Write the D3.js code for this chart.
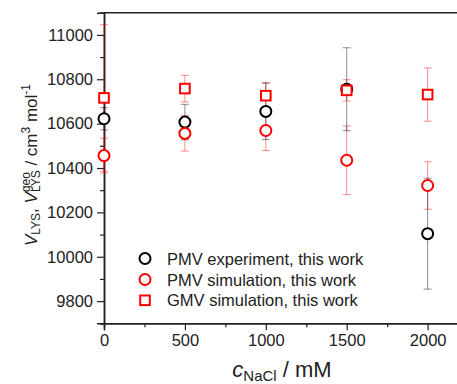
<!DOCTYPE html>
<html><head><meta charset="utf-8">
<script src="https://cdn.jsdelivr.net/npm/d3@7"></script>
<style>body{margin:0;background:#fff}svg{display:block}text{font-family:"Liberation Sans",Arial,sans-serif;fill:#222}</style>
</head><body>
<svg id="c" width="457" height="384"></svg>
<script>
const conc = [0, 500, 1000, 1500, 2000];
const pmvExp = [10622, 10607, 10655, 10755, 10104];
const pmvExpErr = [50, 80, 127, 187, 250];
const pmvSim = [10456, 10556, 10569, 10435, 10321];
const pmvSimErr = [78, 80, 90, 155, 107];
const gmvSim = [10716, 10758, 10726, 10750, 10731];
const gmvSimErr = [330, 60, 60, 48, 120];
const yTicks = [9800, 10000, 10200, 10400, 10600, 10800, 11000];
const yMinor = [9700, 9900, 10100, 10300, 10500, 10700, 10900, 11100];
const xTicks = [0, 500, 1000, 1500, 2000];
const xMinor = [250, 750, 1250, 1750];
const legendLabels = ["PMV experiment, this work", "PMV simulation, this work", "GMV simulation, this work"];

const svg = d3.select("#c");
const x = d3.scaleLinear().domain([0, 2200]).range([104, 460]);
const y = d3.scaleLinear().domain([9700, 11100]).range([323.3, 12.7]);
const FS = 16.5;

// frame top line
svg.append("line").attr("x1", 104).attr("x2", 457).attr("y1", y(11100)).attr("y2", y(11100)).attr("stroke", "#222").attr("stroke-width", 1.5);

// axes
svg.append("g").attr("transform", "translate(104,0)")
  .call(d3.axisLeft(y).tickValues(yTicks).tickSize(7).tickPadding(4).tickFormat(d3.format("d")));
svg.append("g").attr("transform", "translate(104,0)")
  .call(d3.axisLeft(y).tickValues(yMinor).tickSize(4).tickFormat(""));
svg.append("g").attr("transform", "translate(0," + y(9700) + ")")
  .call(d3.axisBottom(x).tickValues(xTicks).tickSize(7).tickPadding(4).tickFormat(d3.format("d")));
svg.append("g").attr("transform", "translate(0," + y(9700) + ")")
  .call(d3.axisBottom(x).tickValues(xMinor).tickSize(4).tickFormat(""));
svg.selectAll(".domain").attr("stroke", "#222").attr("stroke-width", 1.5);
svg.selectAll(".tick line").attr("stroke", "#222").attr("stroke-width", 1.2);
svg.selectAll(".tick text").attr("font-size", FS).attr("fill", "#222").attr("font-family", "Liberation Sans, Arial, sans-serif");

// error bars
function errBars(vals, errs, color) {
  const g = svg.append("g").attr("stroke", color).attr("stroke-width", 1).attr("fill", "none");
  conc.forEach((c, i) => {
    const cx = x(c), y1 = y(vals[i] + errs[i]), y2 = y(vals[i] - errs[i]);
    g.append("line").attr("x1", cx).attr("x2", cx).attr("y1", y1).attr("y2", y2);
    g.append("line").attr("x1", cx - 4).attr("x2", cx + 4).attr("y1", y1).attr("y2", y1);
    g.append("line").attr("x1", cx - 4).attr("x2", cx + 4).attr("y1", y2).attr("y2", y2);
  });
}
errBars(gmvSim, gmvSimErr, "rgba(255,0,0,0.45)");
errBars(pmvSim, pmvSimErr, "rgba(255,0,0,0.45)");
errBars(pmvExp, pmvExpErr, "rgba(0,0,0,0.45)");

// markers
svg.append("g").selectAll("circle").data(pmvExp).join("circle")
  .attr("cx", (d, i) => x(conc[i])).attr("cy", d => y(d)).attr("r", 5.5)
  .attr("fill", "#fff").attr("stroke", "#000").attr("stroke-width", 2);
svg.append("g").selectAll("circle").data(pmvSim).join("circle")
  .attr("cx", (d, i) => x(conc[i])).attr("cy", d => y(d)).attr("r", 5.5)
  .attr("fill", "#fff").attr("stroke", "#f00").attr("stroke-width", 2);
svg.append("g").selectAll("rect").data(gmvSim).join("rect")
  .attr("x", (d, i) => x(conc[i]) - 4.8).attr("y", d => y(d) - 4.8).attr("width", 9.6).attr("height", 9.6)
  .attr("fill", "#fff").attr("stroke", "#f00").attr("stroke-width", 2);

// legend
const lg = svg.append("g");
const ly = [258.5, 279.5, 300.3];
lg.append("circle").attr("cx", 145).attr("cy", ly[0]).attr("r", 5.5).attr("fill", "#fff").attr("stroke", "#000").attr("stroke-width", 2);
lg.append("circle").attr("cx", 145).attr("cy", ly[1]).attr("r", 5.5).attr("fill", "#fff").attr("stroke", "#f00").attr("stroke-width", 2);
lg.append("rect").attr("x", 145 - 4.8).attr("y", ly[2] - 4.8).attr("width", 9.6).attr("height", 9.6).attr("fill", "#fff").attr("stroke", "#f00").attr("stroke-width", 2);
legendLabels.forEach((t, i) => {
  lg.append("text").attr("x", 167).attr("y", ly[i] + 6).attr("font-size", FS).text(t);
});

// x label
const xl = svg.append("text").attr("x", 282).attr("y", 377).attr("text-anchor", "middle").attr("font-size", 22);
xl.append("tspan").attr("font-style", "italic").text("c");
xl.append("tspan").attr("font-size", 15).attr("dy", 3.5).text("NaCl");
xl.append("tspan").attr("dy", -3.5).text(" / mM");

// y label
const yg = svg.append("g").attr("transform", "translate(37,165) rotate(-90)");
const yl = yg.append("text").attr("x", 0).attr("y", 0).attr("text-anchor", "middle").attr("font-size", 17);
yl.append("tspan").attr("font-style", "italic").text("V");
yl.append("tspan").attr("font-size", 12).attr("dy", 3).text("LYS");
yl.append("tspan").attr("dy", -3).text(", ");
yl.append("tspan").attr("font-style", "italic").text("V");
const lys2 = yl.append("tspan").attr("font-size", 12).attr("dy", 3).text("LYS");
const w = lys2.node().getComputedTextLength();
const geo = yl.append("tspan").attr("font-size", 12).attr("dy", -10).attr("dx", -w).text("geo");
const wg = geo.node().getComputedTextLength();
yl.append("tspan").attr("dy", 7).attr("dx", Math.max(0, w - wg)).text(" / cm");
yl.append("tspan").attr("font-size", 12).attr("dy", -7).text("3");
yl.append("tspan").attr("dy", 7).text(" mol");
yl.append("tspan").attr("font-size", 12).attr("dy", -7).text("-1");
</script>
</body></html>
